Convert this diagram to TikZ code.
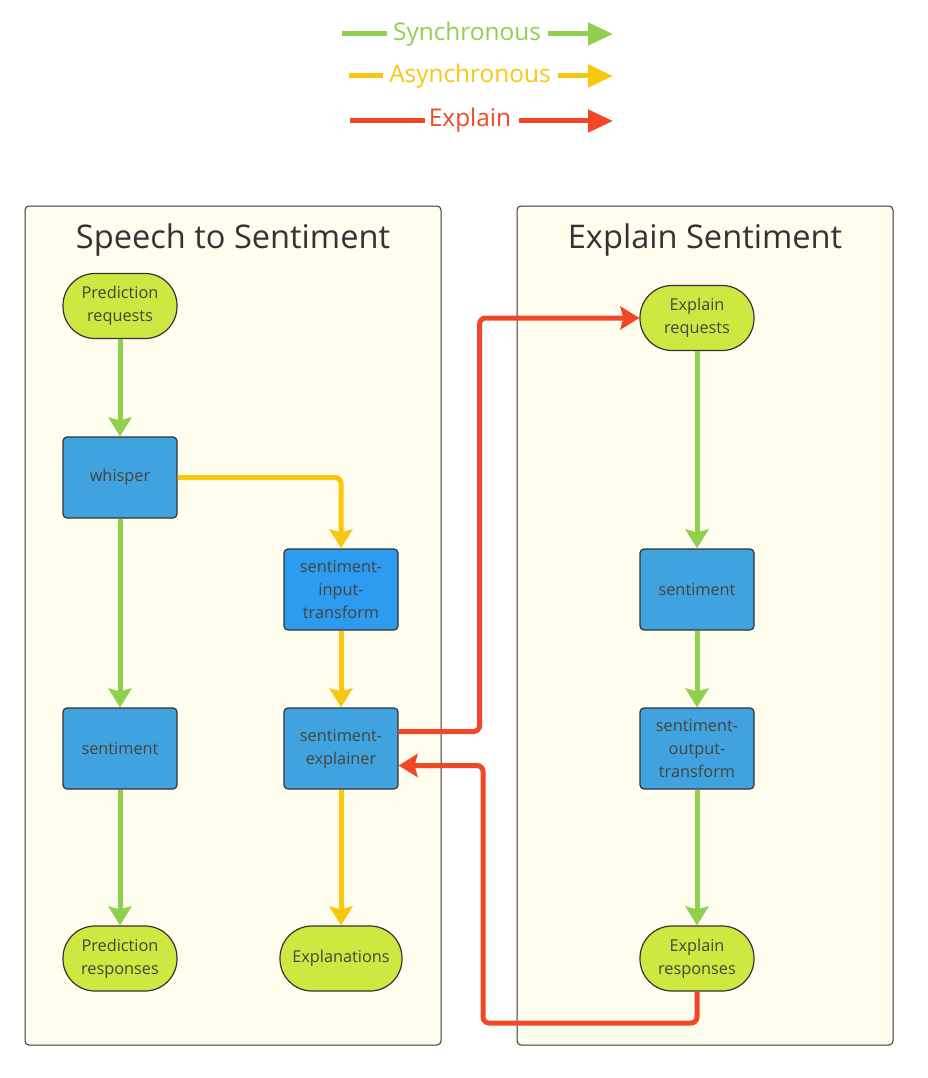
\documentclass[tikz,border=0pt]{standalone}
\usepackage{fontspec}
\setmainfont{Open Sans}
\usetikzlibrary{arrows.meta}
\definecolor{gr}{HTML}{8FD14F}
\definecolor{ye}{HTML}{FAC710}
\definecolor{rd}{HTML}{F24726}
\definecolor{panel}{HTML}{FFFDEE}
\definecolor{lime}{HTML}{CEE741}
\definecolor{blu}{HTML}{40A3DF}
\definecolor{blu2}{HTML}{2D9BF0}
\definecolor{ink}{HTML}{333333}
\definecolor{txt}{HTML}{45453A}
\begin{document}
\begin{tikzpicture}[x=1pt,y=-1pt,
  nodefont/.style={font=\fontsize{16.3}{23}\selectfont, text=txt, align=center, inner sep=0pt},
  term/.style={nodefont, draw=ink, line width=1.2pt, fill=lime, rounded corners=32pt, minimum width=114pt, minimum height=65pt},
  proc/.style={nodefont, draw=ink, line width=1.2pt, fill=blu, rounded corners=4pt, minimum width=114pt, minimum height=81pt},
  panelbox/.style={draw=ink, line width=1pt, fill=panel, rounded corners=4pt},
  ptitle/.style={font=\fontsize{32.6}{38}\selectfont, text=ink, anchor=base, inner sep=0pt},
  tip/.style={-{Stealth[width=23pt,length=19pt,inset=3pt]}},
  sync/.style={draw=gr, line width=5pt, tip},
  async/.style={draw=ye, line width=5pt, tip, rounded corners=6pt},
  expl/.style={draw=rd, line width=5pt, tip, rounded corners=6pt},
  legline/.style={line width=5pt},
  legtip/.style={line width=5pt, -{Triangle[width=22pt,length=25pt]}},
  legtext/.style={font=\fontsize{24.4}{28}\selectfont, anchor=base, inner sep=0pt}
]
\useasboundingbox[fill=white] (0,0) rectangle (927,1078);

% legend
\draw[legline, gr] (342,34) -- (387,34);
\node[legtext, text=gr] (lsync) at (467,41) {Synchronous};
\draw[legtip, gr] (548,34) -- (613,34);
\draw[legline, ye] (349,76) -- (383,76);
\node[legtext, text=ye] (lasync) at (470,83) {Asynchronous};
\draw[legtip, ye] (558,76) -- (613,76);
\draw[legline, rd] (350,121) -- (425,121);
\node[legtext, text=rd] (lexpl) at (470,127) {Explain};
\draw[legtip, rd] (519,121) -- (613,121);

% panels
\draw[panelbox] (25,206) rectangle (441,1045);
\draw[panelbox] (517,206) rectangle (893,1045);
\node[ptitle] (t1) at (233,248) {Speech to Sentiment};
\node[ptitle] (t2) at (705,248) {Explain Sentiment};

% left nodes
\node[term] (preq) at (120,306) {Prediction\\requests};
\node[proc] (wh) at (120,477.5) {whisper};
\node[proc] (sl) at (120,748.5) {sentiment};
\node[term] (presp) at (120,958.5) {Prediction\\responses};
\node[proc, fill=blu2] (sit) at (341,589.5) {sentiment-\\input-\\transform};
\node[proc] (sx) at (341,748.5) {sentiment-\\explainer};
\node[term, minimum width=122pt] (exps) at (341,958.5) {Explanations};

% right nodes
\node[term] (ereq) at (697,318) {Explain\\requests};
\node[proc] (sr) at (697,589.5) {sentiment};
\node[proc] (sot) at (697,748.5) {sentiment-\\output-\\transform};
\node[term] (eresp) at (697,958.5) {Explain\\responses};

% connectors
\draw[sync] (preq) -- (wh);
\draw[sync] (wh) -- (sl);
\draw[sync] (sl) -- (presp);
\draw[async] (wh.east) -| (sit.north);
\draw[async] (sit) -- (sx);
\draw[async] (sx) -- (exps);
\draw[sync] (ereq) -- (sr);
\draw[sync] (sr) -- (sot);
\draw[sync] (sot) -- (eresp);
\draw[expl] ([yshift=17pt]sx.east) -- ++(81,0) |- (ereq.west);
\draw[expl] (eresp.south) |- (483,1023) |- ([yshift=-17pt]sx.east);
\end{tikzpicture}
\end{document}
